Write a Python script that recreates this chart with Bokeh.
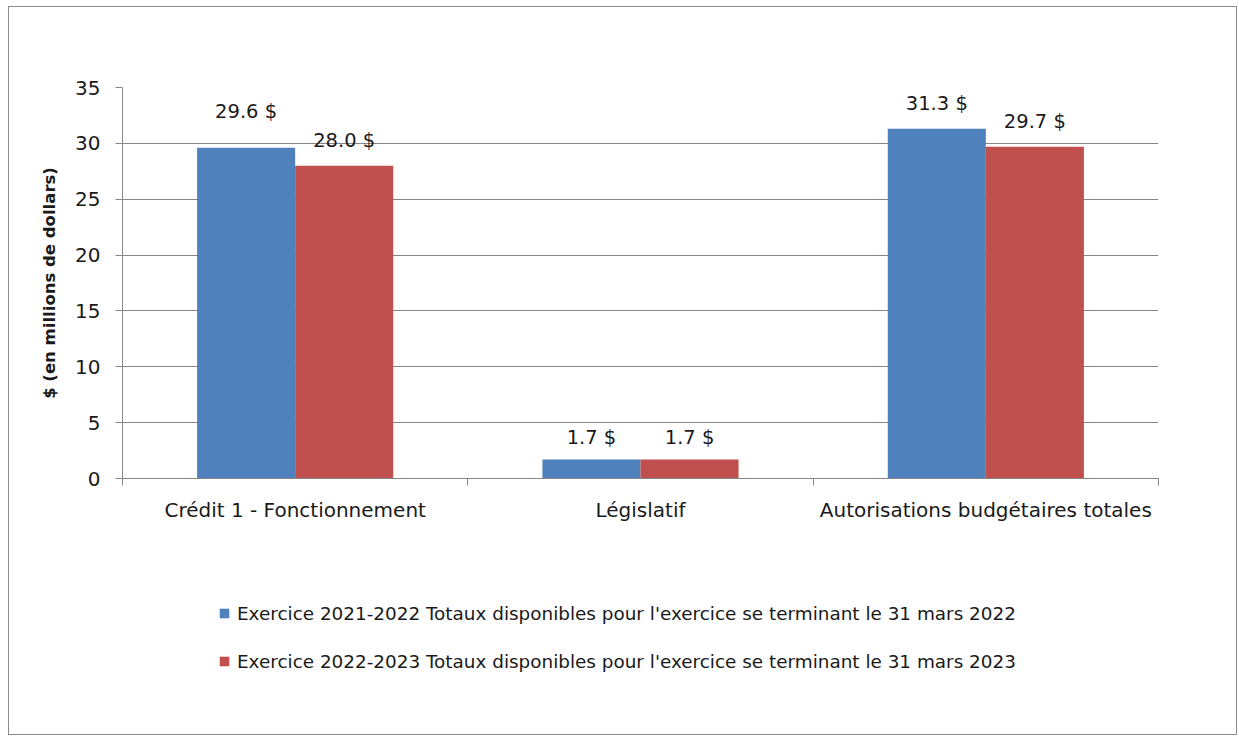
from bokeh.plotting import figure
from bokeh.layouts import column
from bokeh.models import ColumnDataSource, FixedTicker, Legend, LegendItem, LabelSet, Range1d
from bokeh.transform import dodge
from bokeh.core.properties import value
from bokeh.embed import file_html
from bokeh.resources import INLINE

categories = ["Crédit 1 - Fonctionnement", "Législatif", "Autorisations budgétaires totales"]
series_names = [
    "Exercice 2021-2022 Totaux disponibles pour l'exercice se terminant le 31 mars 2022",
    "Exercice 2022-2023 Totaux disponibles pour l'exercice se terminant le 31 mars 2023",
]
values_2022 = [29.6, 1.7, 31.3]
values_2023 = [28.0, 1.7, 29.7]
y_ticks = [0, 5, 10, 15, 20, 25, 30, 35]

FONT = "DejaVu Sans"
BLUE = "#4F81BD"
RED = "#C0504D"
GRAY = "#868686"
TXT = "#1a1a1a"

centers = [i + 0.5 for i in range(len(categories))]
boundaries = list(range(len(categories) + 1))

src = ColumnDataSource(dict(
    x=centers,
    v1=values_2022,
    v2=values_2023,
    t1=[f"{v:.1f} $" for v in values_2022],
    t2=[f"{v:.1f} $" for v in values_2023],
    off1=[36, 22, 25],
    off2=[25, 22, 25],
))

W = 1227
H1 = 531
H2 = 727 - H1

p = figure(width=W, height=H1, output_backend="svg", toolbar_location=None,
           x_range=Range1d(0, len(categories)), y_range=Range1d(0, 35),
           min_border_left=113, min_border_right=78, min_border_top=80, min_border_bottom=60)
p.outline_line_color = None
p.background_fill_color = "white"
p.border_fill_color = "white"

bw = 0.284
r1 = p.vbar(x=dodge("x", -bw / 2), top="v1", width=bw, source=src, fill_color=BLUE, line_color=None)
r2 = p.vbar(x=dodge("x", bw / 2), top="v2", width=bw, source=src, fill_color=RED, line_color=None)

for col, tcol, ocol, d in (("v1", "t1", "off1", -bw / 2), ("v2", "t2", "off2", bw / 2)):
    p.add_layout(LabelSet(x=dodge("x", d), y=col, text=tcol, y_offset=ocol, source=src,
                          text_align="center", text_baseline="middle",
                          text_font=value(FONT), text_font_size=value("19.5px"), text_color=TXT))

# x axis
xa = p.xaxis[0]
xa.ticker = FixedTicker(ticks=centers, minor_ticks=boundaries)
xa.major_label_overrides = {c: n for c, n in zip(centers, categories)}
xa.major_tick_out = 0
xa.major_tick_in = 0
xa.minor_tick_out = 7
xa.minor_tick_in = 0
xa.minor_tick_line_color = GRAY
xa.axis_line_color = GRAY
xa.major_label_standoff = 12
xa.major_label_text_font = FONT
xa.major_label_text_font_size = "20px"
xa.major_label_text_color = TXT
p.xgrid.visible = False

# y axis
ya = p.yaxis[0]
ya.ticker = FixedTicker(ticks=y_ticks, minor_ticks=[])
ya.major_tick_out = 7
ya.major_tick_in = 0
ya.major_tick_line_color = GRAY
ya.axis_line_color = GRAY
ya.major_label_standoff = 15
ya.major_label_text_font = FONT
ya.major_label_text_font_size = "20px"
ya.major_label_text_color = TXT
ya.axis_label = "$ (en millions de dollars)"
ya.axis_label_text_font = FONT
ya.axis_label_text_font_size = "16.5px"
ya.axis_label_text_font_style = "bold"
ya.axis_label_text_color = TXT
ya.axis_label_standoff = 13
p.ygrid.grid_line_color = GRAY
p.ygrid.ticker = FixedTicker(ticks=y_ticks)

# legend figure below the chart (its bars fall outside its own ranges; only the legend shows)
p2 = figure(width=W, height=H2, output_backend="svg", toolbar_location=None,
            x_range=Range1d(10, 11), y_range=Range1d(100, 101),
            x_axis_type=None, y_axis_type=None, min_border=0)
p2.outline_line_color = None
p2.grid.visible = False
p2.background_fill_color = "white"
p2.border_fill_color = "white"
l1 = p2.vbar(x="x", top="v1", width=bw, source=src, fill_color=BLUE, line_color=None)
l2 = p2.vbar(x="x", top="v2", width=bw, source=src, fill_color=RED, line_color=None)

legend = Legend(items=[LegendItem(label=series_names[0], renderers=[l1]),
                       LegendItem(label=series_names[1], renderers=[l2])],
                location=(96, 61), orientation="vertical",
                border_line_color=None, background_fill_alpha=0,
                padding=0, margin=0, spacing=24,
                glyph_width=12, glyph_height=12, label_height=24, label_standoff=7,
                label_text_font=FONT, label_text_font_size="18.4px", label_text_color=TXT)
p2.add_layout(legend)

layout = column(p, p2, spacing=0)
layout.margin = (6, 0, 0, 8)
layout.styles = {"border": "1px solid #8c8c8c", "background": "white"}

open("out.html", "w").write(file_html(layout, INLINE))
